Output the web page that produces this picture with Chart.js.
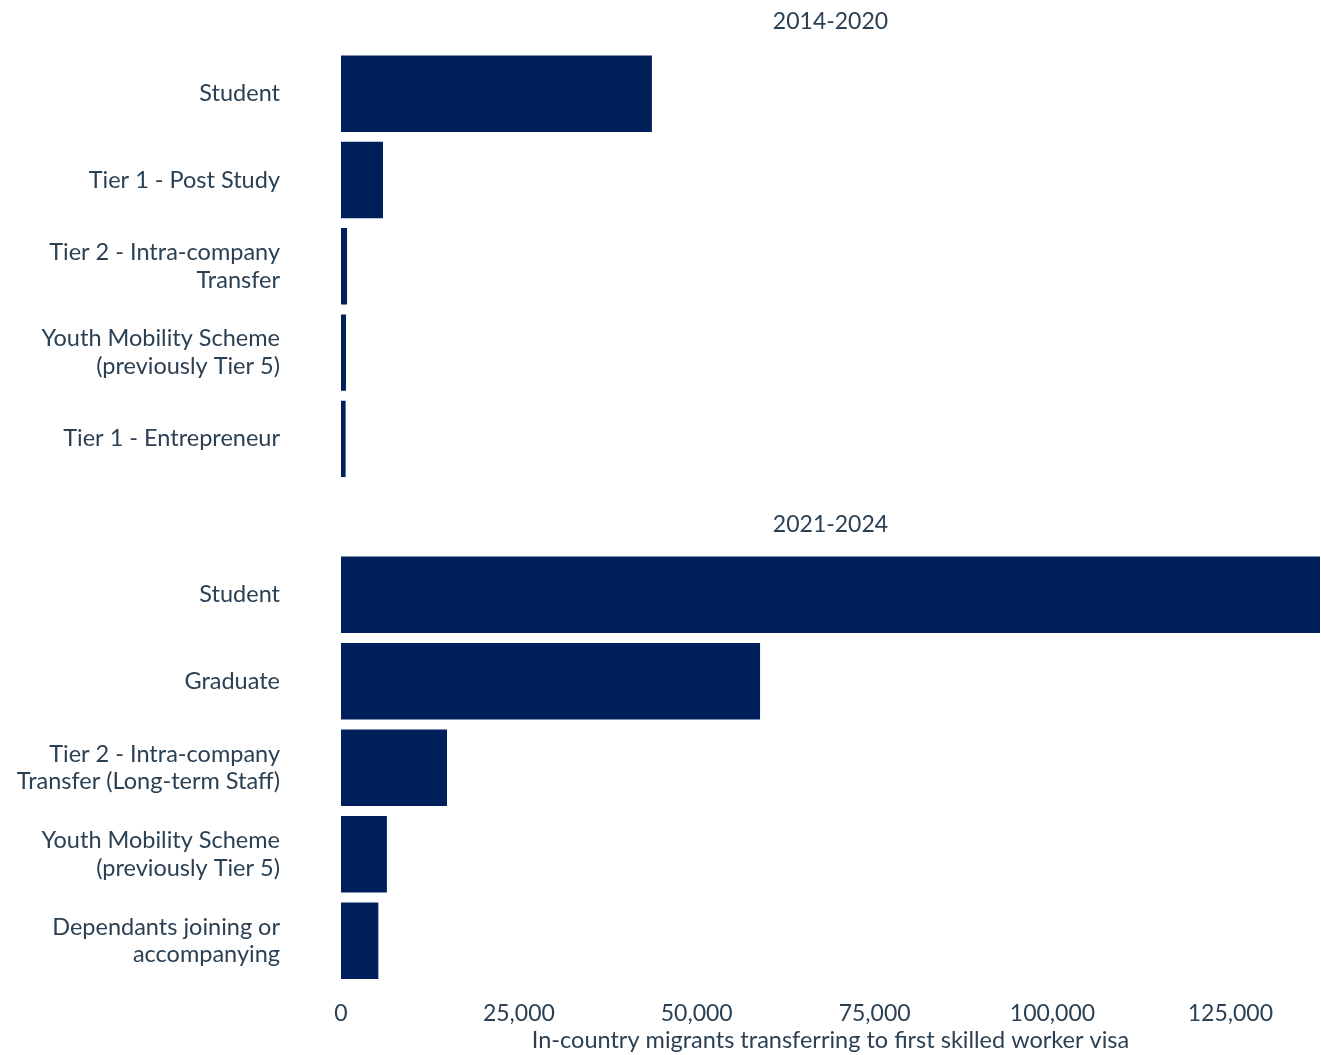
<!DOCTYPE html>
<html>
<head>
<meta charset="utf-8">
<script src="https://cdn.jsdelivr.net/npm/chart.js@4.4.1/dist/chart.umd.min.js"></script>
<style>
  body { margin: 0; background: #fff; }
  #wrap { position: relative; width: 1321px; height: 1055px; }
  canvas { position: absolute; left: 0; }
</style>
</head>
<body>
<div id="wrap">
  <canvas id="topChart" width="1321" height="490" style="top:0"></canvas>
  <canvas id="bottomChart" width="1321" height="565" style="top:490px"></canvas>
</div>
<script>
  var period1Title = '2014-2020';
  var period1Labels = [
    'Student',
    'Tier 1 - Post Study',
    ['Tier 2 - Intra-company', 'Transfer'],
    ['Youth Mobility Scheme', '(previously Tier 5)'],
    'Tier 1 - Entrepreneur'
  ];
  var period1Values = [43700, 5900, 850, 700, 650];

  var period2Title = '2021-2024';
  var period2Labels = [
    'Student',
    'Graduate',
    ['Tier 2 - Intra-company', 'Transfer (Long-term Staff)'],
    ['Youth Mobility Scheme', '(previously Tier 5)'],
    ['Dependants joining or', 'accompanying']
  ];
  var period2Values = [137600, 58900, 14900, 6450, 5250];

  var xTicks = [0, 25000, 50000, 75000, 100000, 125000];
  var xMax = 137600;
  var xTitle = 'In-country migrants transferring to first skilled worker visa';

  var barColor = '#00205c';
  var textColor = '#2b4053';
  var fontFamily = 'Lato, "Open Sans", sans-serif';

  function makeOptions(title, titlePad, showX) {
    return {
      responsive: false,
      animation: false,
      indexAxis: 'y',
      layout: { autoPadding: false, padding: { top: 0, bottom: showX ? 0 : 8, right: 1, left: 0 } },
      plugins: {
        legend: { display: false },
        tooltip: { enabled: false },
        title: {
          display: true,
          text: title,
          fullSize: false,
          color: textColor,
          font: { family: fontFamily, size: 23, weight: 'normal' },
          padding: titlePad
        }
      },
      scales: {
        x: {
          display: showX,
          min: 0,
          max: xMax,
          grid: { display: false },
          border: { display: false },
          afterBuildTicks: function (scale) {
            scale.ticks = xTicks.map(function (v) { return { value: v }; });
          },
          afterFit: function (scale) {
            if (showX) scale.height = 71;
            scale.paddingLeft = 0;
            scale.paddingRight = 0;
          },
          ticks: {
            color: textColor,
            font: { family: fontFamily, size: 23 },
            padding: 8,
            maxRotation: 0,
            callback: function (v) { return v.toLocaleString('en-US'); }
          },
          title: {
            display: true,
            text: xTitle,
            color: textColor,
            font: { family: fontFamily, size: 23.5 },
            padding: { top: 0, bottom: 0 }
          }
        },
        y: {
          grid: { display: false },
          border: { display: false },
          afterFit: function (scale) {
            scale.width = 341;
            scale.paddingTop = 0;
            scale.paddingBottom = 0;
          },
          ticks: {
            color: textColor,
            font: { family: fontFamily, size: 23.5, lineHeight: 1.17 },
            padding: 53
          }
        }
      }
    };
  }

  new Chart(document.getElementById('topChart').getContext('2d'), {
    type: 'bar',
    data: {
      labels: period1Labels,
      datasets: [{
        data: period1Values,
        backgroundColor: barColor,
        categoryPercentage: 1,
        barPercentage: 0.885
      }]
    },
    options: makeOptions(period1Title, { top: 8, bottom: 15 }, false)
  });

  new Chart(document.getElementById('bottomChart').getContext('2d'), {
    type: 'bar',
    data: {
      labels: period2Labels,
      datasets: [{
        data: period2Values,
        backgroundColor: barColor,
        categoryPercentage: 1,
        barPercentage: 0.885
      }]
    },
    options: makeOptions(period2Title, { top: 21, bottom: 13 }, true)
  });
</script>
</body>
</html>
